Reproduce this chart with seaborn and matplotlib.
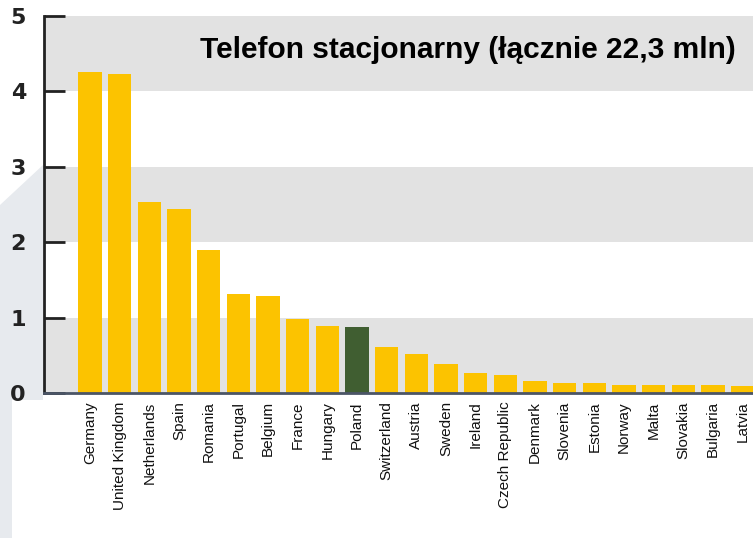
import matplotlib
matplotlib.use("Agg")
import matplotlib.pyplot as plt
import seaborn as sns
import pandas as pd
from matplotlib.patches import Polygon

# Données (millions de lignes fixes)
countries = ["Germany", "United Kingdom", "Netherlands", "Spain", "Romania", "Portugal",
             "Belgium", "France", "Hungary", "Poland", "Switzerland", "Austria", "Sweden",
             "Ireland", "Czech Republic", "Denmark", "Slovenia", "Estonia", "Norway",
             "Malta", "Slovakia", "Bulgaria", "Latvia"]
values = [4.26, 4.23, 2.53, 2.44, 1.90, 1.31, 1.29, 0.98, 0.89, 0.88, 0.61, 0.52, 0.38,
          0.27, 0.24, 0.16, 0.13, 0.13, 0.11, 0.11, 0.11, 0.10, 0.09]
highlight = "Poland"
title_text = "Telefon stacjonarny (łącznie 22,3 mln)"

df = pd.DataFrame({"kraj": countries, "wartosc": values})
yellow = "#fcc300"
green = "#405e31"
palette = {c: (green if c == highlight else yellow) for c in countries}

sns.set_style("white")
fig = plt.figure(figsize=(7.53, 5.38), dpi=100)

# fond gris-bleu à gauche
fig.patches.append(Polygon([(0, 1 - 205 / 538), (43 / 753, 1 - 165 / 538),
                            (43 / 753, 1 - 400 / 538), (12 / 753, 1 - 400 / 538),
                            (12 / 753, 0), (0, 0)],
                           closed=True, transform=fig.transFigure,
                           facecolor="#e7eaee", edgecolor="none", zorder=-1))

ax = fig.add_axes([44 / 753, 1 - 393 / 538, 1 - 44 / 753, (393 - 16) / 538])
ax.set_zorder(1)
ax.set_facecolor("white")

# bandes horizontales
for lo in [0, 2, 4]:
    ax.axhspan(lo, lo + 1, color="#e2e2e2", zorder=0, lw=0)

sns.barplot(data=df, x="kraj", y="wartosc", hue="kraj", palette=palette,
            width=0.78, legend=False, saturation=1, ax=ax, zorder=2,
            linewidth=0, edgecolor="none")

ax.set_xlim(-1.55, 22.35)
ax.set_ylim(0, 5)
ax.set_xlabel("")
ax.set_ylabel("")

ax.set_yticks([0, 1, 2, 3, 4, 5])
ax.tick_params(axis="y", left=True, direction="in", length=15, width=2, color="#222222",
               labelsize=16, pad=13)
for lab in ax.get_yticklabels():
    lab.set_fontweight("bold")
    lab.set_color("#222222")

ax.tick_params(axis="x", length=0, labelsize=11, pad=6, labelcolor="#111111")
ax.set_xticks(range(len(countries)))
ax.set_xticklabels(countries, rotation=90, family="Liberation Sans")

for side in ["top", "right"]:
    ax.spines[side].set_visible(False)
ax.spines["left"].set_color("#222222")
ax.spines["left"].set_linewidth(2)
ax.spines["bottom"].set_color("#4b5566")
ax.spines["bottom"].set_linewidth(2)

ax.text(0.975, 0.91, title_text, transform=ax.transAxes, ha="right", va="center",
        fontsize=21.5, fontweight="bold", family="Liberation Sans", color="black", zorder=3)

fig.savefig("out.png", dpi=100)
